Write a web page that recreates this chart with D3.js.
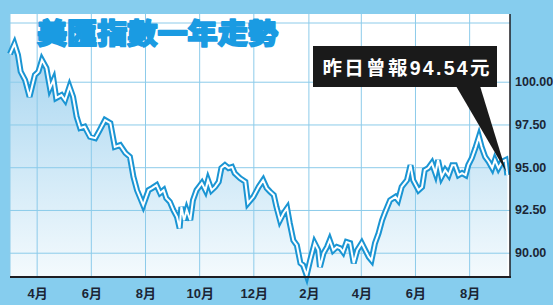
<!DOCTYPE html>
<html>
<head>
<meta charset="utf-8">
<script src="https://d3js.org/d3.v7.min.js"></script>
<style>
  body { margin: 0; background: #86cdee; }
  svg { display: block; }
  .grid line { stroke: #8ccbea; stroke-width: 1; }
  .grid path { display: none; }
  .ylab text { font-family: "Liberation Sans", Arial, sans-serif; font-weight: bold; font-size: 12.5px; fill: #1b2535; }
  .xlab text { font-family: "Liberation Sans", "Noto Sans CJK TC", sans-serif; font-weight: bold; font-size: 13px; fill: #1b2535; }
</style>
</head>
<body>
<svg id="chart"></svg>
<script>
// dates of the index
var dates = [
  "2017-03-02","2017-03-07","2017-03-11","2017-03-14","2017-03-19","2017-03-24","2017-03-30",
  "2017-04-03","2017-04-07","2017-04-12","2017-04-16","2017-04-20","2017-04-23","2017-04-29",
  "2017-05-03","2017-05-08","2017-05-12","2017-05-16","2017-05-20","2017-05-25","2017-05-31",
  "2017-06-06","2017-06-11","2017-06-17","2017-06-23","2017-06-28","2017-07-04","2017-07-10",
  "2017-07-15","2017-07-19","2017-07-23","2017-07-30","2017-08-05","2017-08-09","2017-08-14",
  "2017-08-18","2017-08-22","2017-08-25","2017-08-29","2017-09-02","2017-09-06","2017-09-09",
  "2017-09-11","2017-09-14","2017-09-17","2017-09-21","2017-09-24","2017-09-28","2017-10-04",
  "2017-10-08","2017-10-11","2017-10-15","2017-10-19","2017-10-23","2017-10-26","2017-10-30",
  "2017-11-03","2017-11-07","2017-11-10","2017-11-16","2017-11-22","2017-11-25","2017-12-01",
  "2017-12-07","2017-12-12","2017-12-16","2017-12-20","2017-12-24","2017-12-27","2017-12-31",
  "2018-01-04","2018-01-08","2018-01-11","2018-01-15","2018-01-19","2018-01-23","2018-01-26",
  "2018-01-30","2018-02-03","2018-02-08","2018-02-12","2018-02-14","2018-02-18","2018-02-22",
  "2018-02-25","2018-03-01","2018-03-05","2018-03-09","2018-03-12","2018-03-16","2018-03-20",
  "2018-03-24","2018-03-28","2018-04-02","2018-04-06","2018-04-10","2018-04-13","2018-04-17",
  "2018-04-21","2018-04-25","2018-04-28","2018-05-04","2018-05-10","2018-05-13","2018-05-17",
  "2018-05-23","2018-05-27","2018-05-30","2018-06-05","2018-06-09","2018-06-12","2018-06-16",
  "2018-06-20","2018-06-24","2018-06-27","2018-07-01","2018-07-05","2018-07-09","2018-07-13",
  "2018-07-16","2018-07-20","2018-07-24","2018-07-28","2018-07-31","2018-08-04","2018-08-08",
  "2018-08-12","2018-08-15","2018-08-19","2018-08-23","2018-08-27","2018-08-30","2018-09-03",
  "2018-09-07","2018-09-11","2018-09-13"
];

// dollar index values
var values = [
  101.62,102.21,101.56,100.59,100.10,99.12,100.39,
  100.59,101.27,100.80,99.63,100.10,99.05,99.22,
  98.93,99.71,99.12,97.95,97.29,97.37,96.78,
  96.70,97.17,97.76,97.58,96.19,96.29,95.83,
  95.61,94.44,93.66,92.78,93.66,93.78,93.95,
  93.49,93.66,93.19,92.97,92.49,92.10,91.43,
  92.68,91.90,92.49,91.90,93.07,93.66,94.07,
  93.66,94.24,93.66,93.85,94.15,94.95,95.12,
  94.95,95.02,94.65,94.36,94.15,92.90,93.27,
  93.85,94.24,93.78,93.56,93.37,92.68,91.90,
  92.31,92.61,91.73,90.73,90.44,89.39,89.27,
  88.68,89.56,90.56,90.15,89.17,89.97,90.34,
  90.73,90.15,90.34,90.26,90.05,90.63,90.56,
  89.39,90.15,90.56,90.15,89.75,89.56,90.56,
  91.14,91.90,92.31,93.07,93.27,93.07,93.85,
  94.24,95.12,94.24,93.66,93.85,94.83,94.95,
  95.24,94.65,95.42,94.44,94.83,94.54,95.12,
  95.12,94.54,94.66,94.54,95.12,95.53,96.12,
  96.78,96.19,95.61,95.32,94.95,95.42,94.95,
  95.32,95.42,94.54
];

var yTicks = [90, 92.5, 95, 97.5, 100];
var xTicks = ["2017-04-01","2017-06-01","2017-08-01","2017-10-01","2017-12-01",
              "2018-02-01","2018-04-01","2018-06-01","2018-08-01"];
var title = "美匯指數一年走勢";
var note = "昨日曾報94.54元";
var lastValue = 94.54;

var parse = d3.timeParse("%Y-%m-%d");
var data = dates.map(function(d, i){ return {date: parse(d), value: values[i]}; });

// set the dimensions of the graph
var W = 553, H = 305;
var plot = {left: 10, right: 510, top: 14, bottom: 277};

var svg = d3.select("#chart")
    .attr("width", W)
    .attr("height", H);

var x = d3.scaleTime()
    .domain([parse("2017-03-02"), parse("2018-09-16")])
    .range([plot.left, plot.right]);
var y = d3.scaleLinear()
    .domain([88.58, 103.96])
    .range([plot.bottom, plot.top]);

// gradient for the area below the line
var defs = svg.append("defs");
var grad = defs.append("linearGradient")
    .attr("id", "areaGrad")
    .attr("gradientUnits", "userSpaceOnUse")
    .attr("x1", 0).attr("x2", 0)
    .attr("y1", plot.top + 30).attr("y2", plot.bottom);
grad.append("stop").attr("offset", "0%").attr("stop-color", "#a6d5f0");
grad.append("stop").attr("offset", "100%").attr("stop-color", "#f4fafd");

// white plot background
svg.append("rect")
    .attr("x", plot.left).attr("y", plot.top)
    .attr("width", plot.right - plot.left)
    .attr("height", plot.bottom - plot.top)
    .attr("fill", "#ffffff");

// the area
var area = d3.area()
    .x(function(d){ return x(d.date); })
    .y0(plot.bottom)
    .y1(function(d){ return y(d.value); });
svg.append("path")
    .datum(data)
    .attr("fill", "url(#areaGrad)")
    .attr("d", area);

// gridlines
svg.append("g")
    .attr("class", "grid")
    .attr("transform", "translate(" + plot.left + ",0)")
    .call(d3.axisLeft(y).tickValues(yTicks)
        .tickSize(-(plot.right - plot.left)).tickFormat(""));
svg.append("g")
    .attr("class", "grid")
    .attr("transform", "translate(0," + plot.bottom + ")")
    .call(d3.axisBottom(x).tickValues(xTicks.map(parse))
        .tickSize(-(plot.bottom - plot.top)).tickFormat(""));
// thin rule near the top and left border
svg.append("line")
    .attr("x1", plot.left).attr("x2", plot.right)
    .attr("y1", plot.top + 9).attr("y2", plot.top + 9)
    .attr("stroke", "#8ccbea");
svg.append("line")
    .attr("x1", plot.left).attr("x2", plot.left)
    .attr("y1", plot.top).attr("y2", plot.bottom)
    .attr("stroke", "#8ccbea");

// the double line: blue outline with a white core
var line = d3.line()
    .x(function(d){ return x(d.date); })
    .y(function(d){ return y(d.value); });
svg.append("path")
    .datum(data)
    .attr("fill", "none")
    .attr("stroke", "#1b95d3")
    .attr("stroke-width", 6)
    .attr("stroke-linejoin", "miter")
    .attr("d", line);
svg.append("path")
    .datum(data)
    .attr("fill", "none")
    .attr("stroke", "#ffffff")
    .attr("stroke-width", 2)
    .attr("d", line);

// axes lines
svg.append("line")
    .attr("x1", plot.left).attr("x2", plot.right + 1)
    .attr("y1", plot.bottom).attr("y2", plot.bottom)
    .attr("stroke", "#1d1d22").attr("stroke-width", 2);
svg.append("line")
    .attr("x1", plot.right).attr("x2", plot.right)
    .attr("y1", plot.top).attr("y2", plot.bottom)
    .attr("stroke", "#1d1d22").attr("stroke-width", 1.5);

// y labels on the right
svg.append("g")
    .attr("class", "ylab")
    .selectAll("text")
    .data(yTicks)
    .enter().append("text")
    .attr("x", plot.right + 5)
    .attr("y", function(d){ return y(d); })
    .attr("dy", "0.36em")
    .text(function(d){ return d3.format(".2f")(d); });

// month labels
svg.append("g")
    .attr("class", "xlab")
    .selectAll("text")
    .data(xTicks)
    .enter().append("text")
    .attr("x", function(d){ return x(parse(d)) + 1; })
    .attr("y", 298)
    .attr("text-anchor", "middle")
    .text(function(d){ return (+d.slice(5, 7)) + "月"; });

// title
svg.append("text")
    .attr("x", 37)
    .attr("y", 44)
    .attr("font-family", "Noto Sans CJK TC, Noto Sans CJK SC, sans-serif")
    .attr("font-weight", 900)
    .attr("font-size", 28)
    .attr("textLength", 241)
    .attr("lengthAdjust", "spacingAndGlyphs")
    .attr("fill", "#1a9be2")
    .attr("stroke", "#1a9be2")
    .attr("stroke-width", 1.8)
    .attr("stroke-linejoin", "round")
    .text(title);

// callout box with pointer to the last value
var lastPt = data[data.length - 1];
var box = {x: 313, y: 46, w: 184, h: 41};
svg.append("path")
    .attr("d", "M" + 456 + "," + (box.y + box.h - 1) +
               "L" + 480 + "," + (box.y + box.h - 1) +
               "L" + (x(lastPt.date) - 1) + "," + (y(lastValue) - 3) + "Z")
    .attr("fill", "#1a1a1a");
svg.append("rect")
    .attr("x", box.x).attr("y", box.y)
    .attr("width", box.w).attr("height", box.h)
    .attr("fill", "#1a1a1a");
svg.append("text")
    .attr("x", 322.5)
    .attr("y", 74.5)
    .attr("font-family", "Liberation Sans, Noto Sans CJK TC, sans-serif")
    .attr("font-weight", "bold")
    .attr("font-size", 19.5)
    .attr("textLength", 167)
    .attr("lengthAdjust", "spacing")
    .attr("fill", "#ffffff")
    .text(note);
</script>
</body>
</html>
